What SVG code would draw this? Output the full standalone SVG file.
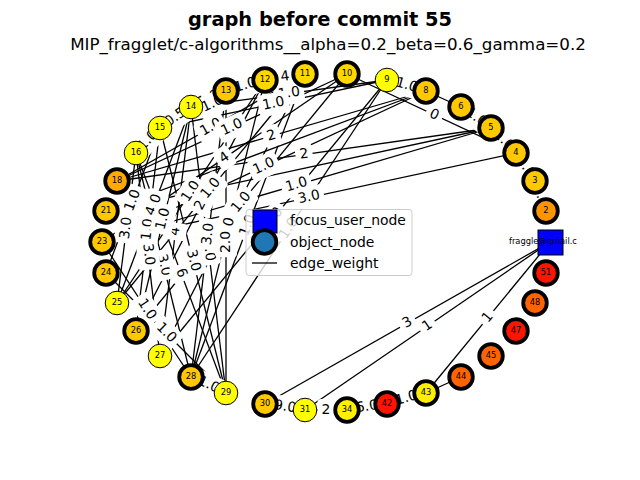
<svg xmlns="http://www.w3.org/2000/svg" width="640" height="480" viewBox="0 0 640 480">
<style>
.e line{stroke:#000;stroke-width:1.3;fill:none}
.lb rect{fill:#fff}
.lb text{font-family:"DejaVu Sans",sans-serif;font-size:13.9px;text-anchor:middle;fill:#000}
.n circle{stroke:#000}
.tk{stroke-width:3.8}
.tn{stroke-width:1}
.n text{font-family:"DejaVu Sans",sans-serif;font-size:8.3px;text-anchor:middle;fill:#000}
.Y{fill:#ffff00}.Y2{fill:#fff000}.G1{fill:#ffd700}.G2{fill:#ffc800}.O1{fill:#ffaa00}.O2{fill:#ff9400}.O3{fill:#ff6400}.R{fill:#ff1400}
.t{font-family:"DejaVu Sans",sans-serif;fill:#000}
</style>
<rect width="640" height="480" fill="#fff"/>
<text class="t" x="320" y="26" font-size="19.4" font-weight="bold" text-anchor="middle">graph before commit 55</text>
<text class="t" x="328" y="50" font-size="16.7" text-anchor="middle">MIP_fragglet/c-algorithms__alpha=0.2_beta=0.6_gamma=0.2</text>
<g id="edges">
<g class="e">
<line x1="136" y1="153" x2="160" y2="128"/>
<line x1="160" y1="128" x2="191" y2="107"/>
<line x1="191" y1="107" x2="226" y2="91"/>
<line x1="226" y1="91" x2="265" y2="80"/>
<line x1="265" y1="80" x2="305" y2="74"/>
<line x1="387" y1="80" x2="426" y2="91"/>
<line x1="426" y1="91" x2="461" y2="107"/>
<line x1="461" y1="107" x2="491" y2="128"/>
<line x1="491" y1="128" x2="516" y2="153"/>
<line x1="516" y1="153" x2="535" y2="181"/>
<line x1="535" y1="181" x2="546" y2="211"/>
<line x1="191" y1="377" x2="226" y2="393"/>
<line x1="265" y1="404" x2="305" y2="410"/>
<line x1="305" y1="410" x2="347" y2="410"/>
<line x1="347" y1="410" x2="387" y2="404"/>
<line x1="387" y1="404" x2="426" y2="393"/>
<line x1="426" y1="393" x2="461" y2="377"/>
<line x1="136" y1="153" x2="117" y2="303"/>
<line x1="160" y1="128" x2="136" y2="331"/>
<line x1="226" y1="91" x2="191" y2="377"/>
<line x1="226" y1="91" x2="226" y2="393"/>
<line x1="160" y1="128" x2="226" y2="393"/>
<line x1="136" y1="153" x2="191" y2="377"/>
<line x1="136" y1="153" x2="160" y2="356"/>
<line x1="136" y1="153" x2="226" y2="393"/>
<line x1="191" y1="107" x2="160" y2="356"/>
<line x1="191" y1="107" x2="117" y2="303"/>
<line x1="160" y1="128" x2="106" y2="273"/>
<line x1="191" y1="107" x2="136" y2="331"/>
<line x1="265" y1="80" x2="117" y2="303"/>
<line x1="265" y1="80" x2="136" y2="331"/>
<line x1="305" y1="74" x2="117" y2="303"/>
<line x1="347" y1="74" x2="136" y2="331"/>
<line x1="305" y1="74" x2="160" y2="356"/>
<line x1="347" y1="74" x2="102" y2="242"/>
<line x1="347" y1="74" x2="117" y2="181"/>
<line x1="265" y1="80" x2="160" y2="128"/>
<line x1="387" y1="80" x2="160" y2="128"/>
<line x1="387" y1="80" x2="191" y2="107"/>
<line x1="426" y1="91" x2="117" y2="181"/>
<line x1="491" y1="128" x2="117" y2="181"/>
<line x1="426" y1="91" x2="102" y2="242"/>
<line x1="491" y1="128" x2="102" y2="242"/>
<line x1="516" y1="153" x2="102" y2="242"/>
<line x1="387" y1="80" x2="160" y2="356"/>
<line x1="387" y1="80" x2="191" y2="377"/>
<line x1="305" y1="74" x2="191" y2="377"/>
<line x1="265" y1="80" x2="191" y2="377"/>
<line x1="191" y1="107" x2="226" y2="393"/>
<line x1="117" y1="181" x2="305" y2="74"/>
<line x1="102" y1="242" x2="191" y2="377"/>
<line x1="106" y1="273" x2="226" y2="393"/>
<line x1="550" y1="242" x2="265" y2="404"/>
<line x1="550" y1="242" x2="305" y2="410"/>
<line x1="550" y1="242" x2="426" y2="393"/>
<line x1="426" y1="91" x2="106" y2="211"/>
<line x1="491" y1="128" x2="106" y2="211"/>
<line x1="347" y1="74" x2="516" y2="153"/>
</g>
<g class="lb">
<g transform="translate(211 127.5) rotate(-29.6)"><rect x="-15.3" y="-11" width="30.5" height="22" rx="4"/><text y="3.6">1.0</text></g>
<g transform="translate(232.5 215) rotate(-62.8)"><rect x="-15.3" y="-11" width="30.5" height="22" rx="4"/><text y="3.6">1.0</text></g>
<g transform="translate(228 228.5) rotate(-76)"><rect x="-15.3" y="-11" width="30.5" height="22" rx="4"/><text y="3.6">1.0</text></g>
<g transform="translate(208.5 250) rotate(83)"><rect x="-15.3" y="-11" width="30.5" height="22" rx="4"/><text y="3.6">3.0</text></g>
<g transform="translate(273.5 218) rotate(-50.6)"><rect x="-15.3" y="-11" width="30.5" height="22" rx="4"/><text y="3.6">1.0</text></g>
<g transform="translate(289 228.5) rotate(-56.6)"><rect x="-15.3" y="-11" width="30.5" height="22" rx="4"/><text y="3.6">1.0</text></g>
<g transform="translate(248 225.5) rotate(-69.4)"><rect x="-15.3" y="-11" width="30.5" height="22" rx="4"/><text y="3.6">1.0</text></g>
<g transform="translate(148 140.5) rotate(-46.2)"><rect x="-15.3" y="-11" width="30.5" height="22" rx="4"/><text y="3.6">1.0</text></g>
<g transform="translate(175.5 117.5) rotate(-34.1)"><rect x="-15.3" y="-11" width="30.5" height="22" rx="4"/><text y="3.6">0.5</text></g>
<g transform="translate(208.5 99) rotate(-24.6)"><rect x="-15.3" y="-11" width="30.5" height="22" rx="4"/><text y="3.6">1.0</text></g>
<g transform="translate(245.5 85.5) rotate(-15.8)"><rect x="-15.3" y="-11" width="30.5" height="22" rx="4"/><text y="3.6">1.0</text></g>
<g transform="translate(285 77) rotate(-8.5)"><rect x="-8.6" y="-11" width="17.2" height="22" rx="4"/><text y="3.6">4</text></g>
<g transform="translate(406.5 85.5) rotate(15.8)"><rect x="-15.3" y="-11" width="30.5" height="22" rx="4"/><text y="3.6">1.0</text></g>
<g transform="translate(476 117.5) rotate(35)"><rect x="-15.3" y="-11" width="30.5" height="22" rx="4"/><text y="3.6">1.0</text></g>
<g transform="translate(503.5 140.5) rotate(45)"><rect x="-15.3" y="-11" width="30.5" height="22" rx="4"/><text y="3.6">1.0</text></g>
<g transform="translate(525.5 167) rotate(55.8)"><rect x="-15.3" y="-11" width="30.5" height="22" rx="4"/><text y="3.6">1.0</text></g>
<g transform="translate(540.5 196) rotate(69.9)"><rect x="-15.3" y="-11" width="30.5" height="22" rx="4"/><text y="3.6">1.0</text></g>
<g transform="translate(208.5 385) rotate(24.6)"><rect x="-15.3" y="-11" width="30.5" height="22" rx="4"/><text y="3.6">1.0</text></g>
<g transform="translate(285 407) rotate(8.5)"><rect x="-15.3" y="-11" width="30.5" height="22" rx="4"/><text y="3.6">9.0</text></g>
<g transform="translate(326 410)"><rect x="-8.6" y="-11" width="17.2" height="22" rx="4"/><text y="3.6">2</text></g>
<g transform="translate(367 407) rotate(-8.5)"><rect x="-15.3" y="-11" width="30.5" height="22" rx="4"/><text y="3.6">6.0</text></g>
<g transform="translate(406.5 398.5) rotate(-15.8)"><rect x="-15.3" y="-11" width="30.5" height="22" rx="4"/><text y="3.6">1.0</text></g>
<g transform="translate(146.5 309.5) rotate(56.6)"><rect x="-15.3" y="-11" width="30.5" height="22" rx="4"/><text y="3.6">1.0</text></g>
<g transform="translate(166 333) rotate(45)"><rect x="-15.3" y="-11" width="30.5" height="22" rx="4"/><text y="3.6">1.0</text></g>
<g transform="translate(126.5 228) rotate(-82.8)"><rect x="-15.3" y="-11" width="30.5" height="22" rx="4"/><text y="3.6">3.0</text></g>
<g transform="translate(148 229.5) rotate(-83.3)"><rect x="-15.3" y="-11" width="30.5" height="22" rx="4"/><text y="3.6">1.0</text></g>
<g transform="translate(193 260.5) rotate(76)"><rect x="-15.3" y="-11" width="30.5" height="22" rx="4"/><text y="3.6">3.0</text></g>
<g transform="translate(163.5 265) rotate(76.2)"><rect x="-15.3" y="-11" width="30.5" height="22" rx="4"/><text y="3.6">3.0</text></g>
<g transform="translate(148 254.5) rotate(83.3)"><rect x="-15.3" y="-11" width="30.5" height="22" rx="4"/><text y="3.6">3.0</text></g>
<g transform="translate(181 273) rotate(69.4)"><rect x="-8.6" y="-11" width="17.2" height="22" rx="4"/><text y="3.6">6</text></g>
<g transform="translate(175.5 231.5) rotate(-82.9)"><rect x="-8.6" y="-11" width="17.2" height="22" rx="4"/><text y="3.6">4</text></g>
<g transform="translate(154 205) rotate(-69.3)"><rect x="-15.3" y="-11" width="30.5" height="22" rx="4"/><text y="3.6">4.0</text></g>
<g transform="translate(133 200.5) rotate(-69.6)"><rect x="-15.3" y="-11" width="30.5" height="22" rx="4"/><text y="3.6">1.0</text></g>
<g transform="translate(163.5 219) rotate(-76.2)"><rect x="-15.3" y="-11" width="30.5" height="22" rx="4"/><text y="3.6">1.0</text></g>
<g transform="translate(191 191.5) rotate(-56.4)"><rect x="-15.3" y="-11" width="30.5" height="22" rx="4"/><text y="3.6">1.0</text></g>
<g transform="translate(200.5 205.5) rotate(-62.8)"><rect x="-8.6" y="-11" width="17.2" height="22" rx="4"/><text y="3.6">2</text></g>
<g transform="translate(211 188.5) rotate(-50.6)"><rect x="-15.3" y="-11" width="30.5" height="22" rx="4"/><text y="3.6">1.0</text></g>
<g transform="translate(241.5 202.5) rotate(-50.6)"><rect x="-15.3" y="-11" width="30.5" height="22" rx="4"/><text y="3.6">1.0</text></g>
<g transform="translate(224.5 158) rotate(-34.4)"><rect x="-8.6" y="-11" width="17.2" height="22" rx="4"/><text y="3.6">4</text></g>
<g transform="translate(232 127.5) rotate(-25)"><rect x="-15.3" y="-11" width="30.5" height="22" rx="4"/><text y="3.6">1.0</text></g>
<g transform="translate(212.5 104) rotate(-24.6)"><rect x="-15.3" y="-11" width="30.5" height="22" rx="4"/><text y="3.6">1.0</text></g>
<g transform="translate(289 93.5) rotate(-7.8)"><rect x="-15.3" y="-11" width="30.5" height="22" rx="4"/><text y="3.6">1.0</text></g>
<g transform="translate(273.5 104) rotate(-12)"><rect x="-15.3" y="-11" width="30.5" height="22" rx="4"/><text y="3.6">1.0</text></g>
<g transform="translate(271.5 136) rotate(-16.2)"><rect x="-8.6" y="-11" width="17.2" height="22" rx="4"/><text y="3.6">2</text></g>
<g transform="translate(304 154.5) rotate(-8.1)"><rect x="-8.6" y="-11" width="17.2" height="22" rx="4"/><text y="3.6">2</text></g>
<g transform="translate(264 166.5) rotate(-25)"><rect x="-15.3" y="-11" width="30.5" height="22" rx="4"/><text y="3.6">1.0</text></g>
<g transform="translate(296.5 185) rotate(-16.3)"><rect x="-15.3" y="-11" width="30.5" height="22" rx="4"/><text y="3.6">1.0</text></g>
<g transform="translate(309 197.5) rotate(-12.1)"><rect x="-15.3" y="-11" width="30.5" height="22" rx="4"/><text y="3.6">3.0</text></g>
<g transform="translate(208.5 234) rotate(-83)"><rect x="-15.3" y="-11" width="30.5" height="22" rx="4"/><text y="3.6">3.0</text></g>
<g transform="translate(226 242) rotate(-90)"><rect x="-15.3" y="-11" width="30.5" height="22" rx="4"/><text y="3.6">2.0</text></g>
<g transform="translate(434 115) rotate(25)"><rect x="-8.6" y="-11" width="17.2" height="22" rx="4"/><text y="3.6">0</text></g>
<g transform="translate(407.5 323) rotate(-29.6)"><rect x="-8.6" y="-11" width="17.2" height="22" rx="4"/><text y="3.6">3</text></g>
<g transform="translate(427.5 326) rotate(-34.4)"><rect x="-8.6" y="-11" width="17.2" height="22" rx="4"/><text y="3.6">1</text></g>
<g transform="translate(488 317.5) rotate(-50.6)"><rect x="-8.6" y="-11" width="17.2" height="22" rx="4"/><text y="3.6">1</text></g>
</g>
</g>
<g id="n9" class="n"><circle class="tn Y" cx="387" cy="80" r="11.8"/><text x="387" y="82.2">9</text></g>
<g id="n8" class="n"><circle class="tk G2" cx="426" cy="91" r="11.8"/><text x="426" y="93.2">8</text></g>
<g id="n6" class="n"><circle class="tk G2" cx="461" cy="107" r="11.8"/><text x="461" y="109.2">6</text></g>
<g id="n5" class="n"><circle class="tk G2" cx="491" cy="128" r="11.8"/><text x="491" y="130.2">5</text></g>
<g id="n4" class="n"><circle class="tk G2" cx="516" cy="153" r="11.8"/><text x="516" y="155.2">4</text></g>
<g id="n3" class="n"><circle class="tk G2" cx="535" cy="181" r="11.8"/><text x="535" y="183.2">3</text></g>
<g id="n2" class="n"><circle class="tk O2" cx="546" cy="211" r="11.8"/><text x="546" y="213.2">2</text></g>
<g id="nF" class="n"><rect x="538" y="230" width="25" height="25" fill="#0000ff" stroke="#000" stroke-width="1"/><text x="509" y="244.2" style="text-anchor:start">fraggle@gmail.c</text></g>
<g id="n51" class="n"><circle class="tk R" cx="546" cy="273" r="11.8"/><text x="546" y="275.2">51</text></g>
<g id="n48" class="n"><circle class="tk O3" cx="535" cy="303" r="11.8"/><text x="535" y="305.2">48</text></g>
<g id="n47" class="n"><circle class="tk R" cx="516" cy="331" r="11.8"/><text x="516" y="333.2">47</text></g>
<g id="n45" class="n"><circle class="tk O3" cx="491" cy="356" r="11.8"/><text x="491" y="358.2">45</text></g>
<g id="n44" class="n"><circle class="tk O3" cx="461" cy="377" r="11.8"/><text x="461" y="379.2">44</text></g>
<g id="n43" class="n"><circle class="tk Y2" cx="426" cy="393" r="11.8"/><text x="426" y="395.2">43</text></g>
<g id="n42" class="n"><circle class="tk R" cx="387" cy="404" r="11.8"/><text x="387" y="406.2">42</text></g>
<g id="n34" class="n"><circle class="tk Y2" cx="347" cy="410" r="11.8"/><text x="347" y="412.2">34</text></g>
<g id="n31" class="n"><circle class="tn Y" cx="305" cy="410" r="11.8"/><text x="305" y="412.2">31</text></g>
<g id="n30" class="n"><circle class="tk G2" cx="265" cy="404" r="11.8"/><text x="265" y="406.2">30</text></g>
<g id="n29" class="n"><circle class="tn Y" cx="226" cy="393" r="11.8"/><text x="226" y="395.2">29</text></g>
<g id="n28" class="n"><circle class="tk G2" cx="191" cy="377" r="11.8"/><text x="191" y="379.2">28</text></g>
<g id="n27" class="n"><circle class="tn Y" cx="160" cy="356" r="11.8"/><text x="160" y="358.2">27</text></g>
<g id="n26" class="n"><circle class="tk G2" cx="136" cy="331" r="11.8"/><text x="136" y="333.2">26</text></g>
<g id="n25" class="n"><circle class="tn Y" cx="117" cy="303" r="11.8"/><text x="117" y="305.2">25</text></g>
<g id="n24" class="n"><circle class="tk G2" cx="106" cy="273" r="11.8"/><text x="106" y="275.2">24</text></g>
<g id="n23" class="n"><circle class="tk G2" cx="102" cy="242" r="11.8"/><text x="102" y="244.2">23</text></g>
<g id="n21" class="n"><circle class="tk G2" cx="106" cy="211" r="11.8"/><text x="106" y="213.2">21</text></g>
<g id="n18" class="n"><circle class="tk O1" cx="117" cy="181" r="11.8"/><text x="117" y="183.2">18</text></g>
<g id="n16" class="n"><circle class="tn Y" cx="136" cy="153" r="11.8"/><text x="136" y="155.2">16</text></g>
<g id="n15" class="n"><circle class="tn Y" cx="160" cy="128" r="11.8"/><text x="160" y="130.2">15</text></g>
<g id="n14" class="n"><circle class="tn Y" cx="191" cy="107" r="11.8"/><text x="191" y="109.2">14</text></g>
<g id="n13" class="n"><circle class="tk G2" cx="226" cy="91" r="11.8"/><text x="226" y="93.2">13</text></g>
<g id="n12" class="n"><circle class="tk G1" cx="265" cy="80" r="11.8"/><text x="265" y="82.2">12</text></g>
<g id="n11" class="n"><circle class="tk G1" cx="305" cy="74" r="11.8"/><text x="305" y="76.2">11</text></g>
<g id="n10" class="n"><circle class="tk G1" cx="347" cy="74" r="11.8"/><text x="347" y="76.2">10</text></g>
<g id="legend">
<rect x="246" y="209.5" width="166" height="66" rx="3" fill="#fff" fill-opacity="0.8" stroke="#cccccc" stroke-width="1"/>
<rect x="253" y="210" width="24" height="23" fill="#0000ff" stroke="#000" stroke-width="1"/>
<circle cx="264.5" cy="242" r="11.8" fill="#1f77b4" stroke="#000" stroke-width="3.8"/>
<line x1="252" y1="263" x2="277" y2="263" stroke="#000" stroke-width="1.3"/>
<text class="t" x="290" y="225" font-size="13.9">focus_user_node</text>
<text class="t" x="290" y="247" font-size="13.9">object_node</text>
<text class="t" x="290" y="268" font-size="13.9">edge_weight</text>
</g>
</svg>
